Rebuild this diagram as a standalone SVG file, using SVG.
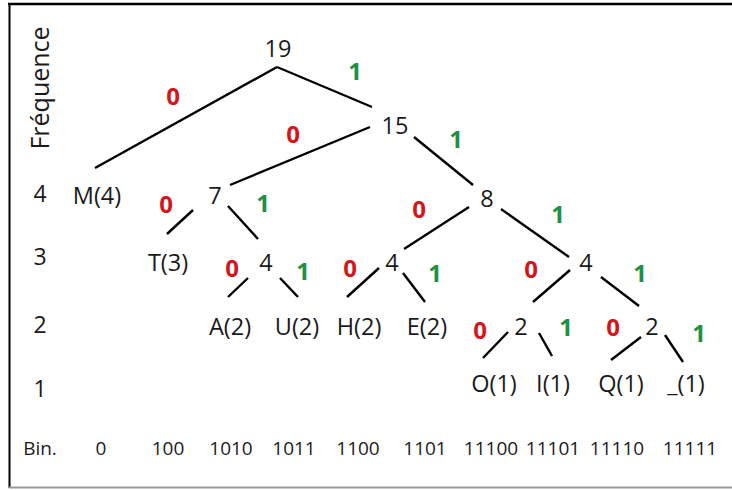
<svg xmlns="http://www.w3.org/2000/svg" width="732" height="490" viewBox="0 0 732 490">
<style>
text{font-family:"Open Sans","Noto Sans","Liberation Sans",sans-serif;fill:#1a1a1a;text-anchor:middle}
.n{font-size:23.5px}
.ax{font-size:23px}
.fr{font-size:25px}
.bin{font-size:19px}
.b0{font-size:24px;font-weight:bold;fill:#d7141a}
.b1{font-size:24px;font-weight:bold;fill:#1e9142}
.e{stroke:#000;stroke-width:2.4;fill:none;stroke-linecap:butt}
</style>
<rect x="0" y="0" width="732" height="490" fill="#fff"/>
<g id="frame">
<line x1="8" y1="4" x2="732" y2="4" stroke="#000" stroke-width="2.5"/>
<line x1="9.5" y1="3" x2="9.5" y2="488" stroke="#000" stroke-width="2"/>
<line x1="9" y1="487.5" x2="732" y2="487.5" stroke="#999" stroke-width="2"/>
</g>
<g id="axis">
<text class="fr" transform="translate(49,88) rotate(-90)">Fréquence</text>
<text class="ax" x="40" y="202">4</text>
<text class="ax" x="40" y="265">3</text>
<text class="ax" x="40" y="333">2</text>
<text class="ax" x="40" y="397">1</text>
<text class="bin" x="40" y="455">Bin.</text>
</g>
<g id="connectors">
<path class="e" d="M277,67 L95,168"/>
<path class="e" d="M277,67 L372,107"/>
<path class="e" d="M370,127 L230,185"/>
<path class="e" d="M414,137 L473,185"/>
<path class="e" d="M193,210 L167,234"/>
<path class="e" d="M228,206 L258,239"/>
<path class="e" d="M469,207 L404,249"/>
<path class="e" d="M501,209 L569,257"/>
<path class="e" d="M248,278 L228,297"/>
<path class="e" d="M280,278 L298,297"/>
<path class="e" d="M379,268 L347,297"/>
<path class="e" d="M403,273 L425,302"/>
<path class="e" d="M570,270 L533,302"/>
<path class="e" d="M601,277 L639,306"/>
<path class="e" d="M508,332 L483,358"/>
<path class="e" d="M539,333 L552,356"/>
<path class="e" d="M641,337 L611,360"/>
<path class="e" d="M665,335 L683,362"/>
</g>
<g id="bits">
<text class="b0" x="173" y="105">0</text>
<text class="b1" x="355" y="80">1</text>
<text class="b0" x="293" y="143">0</text>
<text class="b1" x="456" y="148">1</text>
<text class="b0" x="166" y="213">0</text>
<text class="b1" x="263" y="212">1</text>
<text class="b0" x="419" y="218">0</text>
<text class="b1" x="558" y="223">1</text>
<text class="b0" x="232" y="277">0</text>
<text class="b1" x="303" y="280">1</text>
<text class="b0" x="350" y="277">0</text>
<text class="b1" x="435" y="282">1</text>
<text class="b0" x="531" y="278">0</text>
<text class="b1" x="640" y="282">1</text>
<text class="b0" x="480" y="339">0</text>
<text class="b1" x="566" y="336">1</text>
<text class="b0" x="613" y="336">0</text>
<text class="b1" x="699" y="342">1</text>
</g>
<g id="n19"><text class="n" x="278" y="57">19</text></g>
<g id="n15"><text class="n" x="395" y="134">15</text></g>
<g id="nM"><text class="n" x="97" y="204">M(4)</text></g>
<g id="n7"><text class="n" x="215" y="204">7</text></g>
<g id="n8"><text class="n" x="487" y="207">8</text></g>
<g id="nT"><text class="n" x="168" y="271">T(3)</text></g>
<g id="n4a"><text class="n" x="266" y="271">4</text></g>
<g id="n4b"><text class="n" x="392" y="271">4</text></g>
<g id="n4c"><text class="n" x="586" y="271">4</text></g>
<g id="nA"><text class="n" x="230" y="335">A(2)</text></g>
<g id="nU"><text class="n" x="297" y="335">U(2)</text></g>
<g id="nH"><text class="n" x="359" y="335">H(2)</text></g>
<g id="nE"><text class="n" x="427" y="335">E(2)</text></g>
<g id="n2a"><text class="n" x="521" y="335">2</text></g>
<g id="n2b"><text class="n" x="652" y="335">2</text></g>
<g id="nO"><text class="n" x="494" y="392">O(1)</text></g>
<g id="nI"><text class="n" x="553" y="392">I(1)</text></g>
<g id="nQ"><text class="n" x="621" y="392">Q(1)</text></g>
<g id="n_"><text class="n" x="686" y="392">_(1)</text></g>
<g id="codes">
<text class="bin" x="101" y="455">0</text>
<text class="bin" x="168" y="455">100</text>
<text class="bin" x="231" y="455">1010</text>
<text class="bin" x="294" y="455">1011</text>
<text class="bin" x="358" y="455">1100</text>
<text class="bin" x="425" y="455">1101</text>
<text class="bin" x="491" y="455">11100</text>
<text class="bin" x="553" y="455">11101</text>
<text class="bin" x="617" y="455">11110</text>
<text class="bin" x="690" y="455">11111</text>
</g>
</svg>
